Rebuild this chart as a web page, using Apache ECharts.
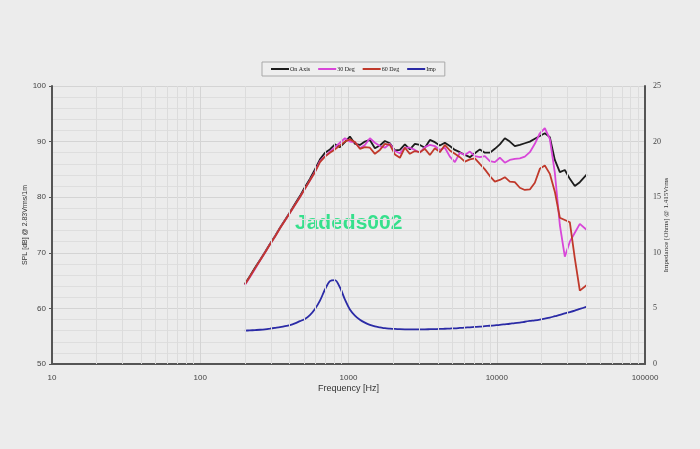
<!DOCTYPE html>
<html>
<head>
<meta charset="utf-8">
<script src="https://cdn.jsdelivr.net/npm/echarts@6/dist/echarts.min.js"></script>
<style>
html,body{margin:0;padding:0;background:#ececec;}
#chart{width:700px;height:449px;}
</style>
</head>
<body>
<div id="chart"></div>
<script>
const freq = [200,216,234,253,273,295,319,345,373,403,435,470,508,549,594,642,694,749,810,875,946,1022,1105,1194,1290,1394,1507,1628,1760,1902,2056,2222,2401,2594,2804,3031,3276,3540,3825,4134,4467,4829,5219,5640,6095,6587,7118,7691,8314,8984,9709,10490,11340,12250,13240,14310,15470,16720,18070,19530,21100,22810,24650,26640,28790,31110,33620,36340,40500];

const onAxis = [64.4,65.8,67.3,68.7,70.1,71.6,73.0,74.5,75.9,77.3,78.8,80.2,81.8,83.3,85.0,86.8,88.0,88.6,89.5,89.0,89.9,90.9,89.6,89.4,90.0,90.3,88.8,89.3,90.1,89.7,88.4,88.5,89.5,88.6,89.6,89.4,88.9,90.3,89.9,89.3,89.8,89.2,88.5,88.1,87.6,87.2,87.9,88.6,88.0,88.0,88.7,89.5,90.6,90.0,89.2,89.4,89.7,90.0,90.5,91.0,91.5,90.8,86.7,84.5,84.9,83.3,82.0,82.7,84.1];

const deg30 = [64.2,65.6,67.1,68.6,70.0,71.5,72.9,74.4,75.8,77.2,78.6,80.0,81.5,83.0,84.6,86.5,87.4,88.2,89.0,89.8,90.6,90.0,89.9,88.8,89.4,90.6,89.8,89.2,88.9,89.6,88.3,87.9,88.9,88.9,88.5,88.0,89.0,89.4,89.2,88.5,88.9,87.3,86.3,88.0,87.6,88.2,87.4,87.2,87.4,86.5,86.3,87.1,86.2,86.7,86.9,87.0,87.3,88.1,89.6,91.5,92.4,90.5,84.4,75.0,69.3,72.0,73.6,75.2,74.1];

const deg60 = [64.3,65.7,67.2,68.6,70.0,71.5,72.9,74.4,75.8,77.2,78.6,80.0,81.5,83.0,84.5,86.3,87.3,88.0,88.6,89.3,90.0,90.4,89.9,88.7,89.0,88.9,87.8,88.5,89.6,89.4,87.7,87.1,88.9,87.8,88.3,88.1,88.7,87.6,88.8,88.1,89.4,88.4,87.8,87.2,86.4,86.8,87.0,86.0,85.0,83.8,82.8,83.1,83.6,82.8,82.7,81.7,81.3,81.4,82.6,85.1,85.7,84.2,81.0,76.3,75.9,75.5,69.0,63.2,64.2];

const imp = [3.0,3.02,3.05,3.08,3.12,3.18,3.25,3.32,3.4,3.5,3.65,3.85,4.05,4.4,4.95,5.7,6.7,7.45,7.55,6.9,5.8,4.9,4.35,3.98,3.72,3.52,3.38,3.3,3.22,3.18,3.15,3.13,3.12,3.12,3.12,3.12,3.12,3.13,3.14,3.15,3.17,3.19,3.21,3.24,3.27,3.3,3.33,3.36,3.4,3.44,3.48,3.52,3.57,3.62,3.68,3.72,3.8,3.87,3.93,4.0,4.08,4.17,4.3,4.42,4.55,4.67,4.8,4.95,5.15];

const seriesNames = ['On Axis','30 Deg','60 Deg','Imp'];
const seriesColors = ['#1c1c1c','#d846d8','#c0392b','#2b2ba6'];

// minor log grid lines (2..9 x each decade)
const minorGrid = [];
[10,100,1000,10000].forEach(d => { for (let k = 2; k <= 9; k++) minorGrid.push({xAxis: k*d}); });

const chart = echarts.init(document.getElementById('chart'));
const pair = arr => freq.map((f,i) => [f, arr[i]]);
const axisGray = '#555';

chart.setOption({
  backgroundColor: '#ececec',
  animation: false,
  grid: {left: 52, right: 55, top: 86, bottom: 85},
  legend: {
    data: seriesNames,
    left: 262, top: 62,
    padding: [4, 9],
    itemGap: 8,
    itemWidth: 18, itemHeight: 2,
    icon: 'rect',
    borderColor: '#a8a8a8', borderWidth: 1,
    backgroundColor: '#eeeeee',
    textStyle: {fontFamily: 'Liberation Serif', fontSize: 6, color: '#222', padding: [0,0,0,-4]}
  },
  graphic: [{
    type: 'text', left: 295, top: 213,
    style: {text: 'Jadeds002', fill: '#36e08c', font: 'bold 21px "Liberation Sans"'}
  }],
  xAxis: {
    type: 'log', logBase: 10, min: 10, max: 100000,
    name: 'Frequency [Hz]', nameLocation: 'middle', nameGap: 20, nameMoveOverlap: false,
    nameTextStyle: {fontFamily: 'Liberation Sans', fontSize: 9, color: '#333'},
    axisLine: {show: true, lineStyle: {color: axisGray, width: 2}},
    axisTick: {show: false},
    axisLabel: {fontFamily: 'Liberation Sans', fontSize: 8, color: '#444', margin: 10, formatter: v => String(v)},
    splitLine: {show: true, lineStyle: {color: '#d4d4d4', width: 1}}
  },
  yAxis: [{
    type: 'value', min: 50, max: 100, interval: 10, position: 'left',
    name: 'SPL [dB] @ 2.83Vrms/1m', nameLocation: 'middle', nameGap: 23, nameRotate: 90, nameMoveOverlap: false,
    nameTextStyle: {fontFamily: 'Liberation Sans', fontSize: 7, color: '#333'},
    axisLine: {show: true, lineStyle: {color: axisGray, width: 2}},
    axisTick: {show: true, length: 3, lineStyle: {color: axisGray}},
    axisLabel: {fontFamily: 'Liberation Sans', fontSize: 8, color: '#444', margin: 6},
    splitLine: {show: true, lineStyle: {color: '#d4d4d4', width: 1}},
    minorTick: {show: false, splitNumber: 5},
    minorSplitLine: {show: true, lineStyle: {color: '#dedede', width: 1}}
  }, {
    type: 'value', min: 0, max: 25, interval: 5, position: 'right',
    name: 'Impedance [Ohms] @ 1.415Vrms', nameLocation: 'middle', nameGap: 18, nameRotate: 90, nameMoveOverlap: false,
    nameTextStyle: {fontFamily: 'Liberation Serif', fontSize: 7, color: '#333'},
    axisLine: {show: true, lineStyle: {color: axisGray, width: 2}},
    axisTick: {show: false},
    axisLabel: {fontFamily: 'Liberation Serif', fontSize: 8, color: '#444', margin: 8},
    splitLine: {show: false}
  }],
  series: [
    {
      name: '__grid', type: 'line', data: [[10, 50]], symbol: 'none', silent: true,
      lineStyle: {opacity: 0},
      markLine: {
        silent: true, symbol: 'none', animation: false,
        label: {show: false},
        lineStyle: {color: '#dcdcdc', width: 1, type: 'solid'},
        data: minorGrid
      }
    },
    {name: seriesNames[0], type: 'line', data: pair(onAxis), symbol: 'none', lineStyle: {width: 1.8}, color: seriesColors[0]},
    {name: seriesNames[1], type: 'line', data: pair(deg30), symbol: 'none', lineStyle: {width: 1.8}, color: seriesColors[1]},
    {name: seriesNames[2], type: 'line', data: pair(deg60), symbol: 'none', lineStyle: {width: 1.8}, color: seriesColors[2]},
    {name: seriesNames[3], type: 'line', yAxisIndex: 1, data: pair(imp), symbol: 'none', smooth: 0.3, lineStyle: {width: 1.8}, color: seriesColors[3]}
  ]
});
</script>
</body>
</html>
